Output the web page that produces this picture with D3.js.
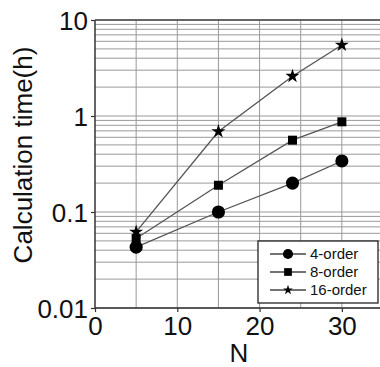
<!DOCTYPE html>
<html>
<head>
<meta charset="utf-8">
<script src="https://cdn.jsdelivr.net/npm/d3@7"></script>
<style>
	body { margin: 0; background: #fff; }
	text { font-family: "Liberation Sans", Arial, sans-serif; fill: #111; }
</style>
</head>
<body>
<div id="chart"></div>
<script>
// Values
var nValues = [5, 15, 24, 30];
var order4 = [0.043, 0.1, 0.2, 0.34];
var order8 = [0.053, 0.19, 0.56, 0.87];
var order16 = [0.062, 0.69, 2.6, 5.5];
var seriesNames = ['4-order', '8-order', '16-order'];
var xTicks = [0, 10, 20, 30];
var yTicks = [0.01, 0.1, 1, 10];

var w = 380, h = 367;
var margin = {top: 20, right: -3, bottom: 59, left: 95};

var svg = d3.select('#chart').append('svg')
	.attr('width', w)
	.attr('height', h);

var x = d3.scaleLinear().domain([0, 35]).range([margin.left, w - margin.right]);
var y = d3.scaleLog().domain([0.01, 10]).range([h - margin.bottom, margin.top]);

// Grid: vertical every 5, horizontal at every log step
var grid = svg.append('g').attr('class', 'grid');
grid.selectAll('line.v')
	.data(d3.range(5, 36, 5))
	.enter().append('line')
	.attr('x1', function(d) { return x(d); })
	.attr('x2', function(d) { return x(d); })
	.attr('y1', y(0.01))
	.attr('y2', y(10))
	.attr('stroke', '#999')
	.attr('stroke-width', 1);
grid.selectAll('line.h')
	.data(y.ticks())
	.enter().append('line')
	.attr('x1', x(0))
	.attr('x2', w)
	.attr('y1', function(d) { return y(d); })
	.attr('y2', function(d) { return y(d); })
	.attr('stroke', '#999')
	.attr('stroke-width', 1);

// Axes
var xAxis = d3.axisBottom(x).tickValues(xTicks).tickSize(4).tickPadding(4)
	.tickFormat(d3.format('d'));
var yAxis = d3.axisLeft(y).tickValues(yTicks).tickSize(4).tickPadding(3)
	.tickFormat(function(d) { return String(+d.toPrecision(1)); });

var gx = svg.append('g')
	.attr('transform', 'translate(0,' + y(0.01) + ')')
	.call(xAxis);
var gy = svg.append('g')
	.attr('transform', 'translate(' + x(0) + ',0)')
	.call(yAxis);
[gx, gy].forEach(function(g) {
	g.select('.domain').remove();
	g.selectAll('line').attr('stroke', '#333').attr('stroke-width', 1.2);
	g.selectAll('text').style('font-size', '26px').style('font-family', '"Liberation Sans", Arial, sans-serif').attr('fill', '#111');
});
gx.selectAll('text').attr('dy', '0.72em');
gy.selectAll('text').attr('dy', '0.36em');

// Frame lines (left, bottom, top)
svg.append('line').attr('x1', x(0)).attr('x2', x(0)).attr('y1', y(10)).attr('y2', y(0.01))
	.attr('stroke', '#333').attr('stroke-width', 1.5);
svg.append('line').attr('x1', x(0)).attr('x2', w).attr('y1', y(0.01)).attr('y2', y(0.01))
	.attr('stroke', '#333').attr('stroke-width', 1.5);
svg.append('line').attr('x1', x(0)).attr('x2', w).attr('y1', y(10)).attr('y2', y(10))
	.attr('stroke', '#444').attr('stroke-width', 1.5);

// Axis titles
svg.append('text')
	.attr('transform', 'translate(32,155) rotate(-90)')
	.attr('text-anchor', 'middle')
	.style('font-size', '26px')
	.text('Calculation time(h)');
svg.append('text')
	.attr('x', x(17.5))
	.attr('y', 362)
	.attr('text-anchor', 'middle')
	.style('font-size', '26px')
	.text('N');

// Series
var series = [
	{name: seriesNames[0], values: order4, symbol: d3.symbolCircle, size: 135, legendSize: 80},
	{name: seriesNames[1], values: order8, symbol: d3.symbolSquare, size: 81, legendSize: 60},
	{name: seriesNames[2], values: order16, symbol: d3.symbolStar, size: 62, legendSize: 30}
];

var line = d3.line()
	.x(function(d) { return x(d[0]); })
	.y(function(d) { return y(d[1]); });

series.forEach(function(s) {
	var pts = nValues.map(function(n, i) { return [n, s.values[i]]; });
	svg.append('path')
		.datum(pts)
		.attr('d', line)
		.attr('fill', 'none')
		.attr('stroke', '#555')
		.attr('stroke-width', 1.3);
});
series.forEach(function(s) {
	var pts = nValues.map(function(n, i) { return [n, s.values[i]]; });
	svg.selectAll(null)
		.data(pts)
		.enter().append('path')
		.attr('transform', function(d) { return 'translate(' + x(d[0]) + ',' + y(d[1]) + ')'; })
		.attr('d', d3.symbol().type(s.symbol).size(s.size))
		.attr('fill', '#000');
});

// Legend
var legend = svg.append('g').attr('transform', 'translate(258,241)');
legend.append('rect')
	.attr('width', 120)
	.attr('height', 62)
	.attr('fill', '#fff')
	.attr('stroke', '#222')
	.attr('stroke-width', 1.3);
series.forEach(function(s, i) {
	var row = legend.append('g').attr('transform', 'translate(0,' + (13 + i * 18) + ')');
	row.append('line')
		.attr('x1', 12).attr('x2', 48)
		.attr('stroke', '#444').attr('stroke-width', 1.3);
	row.append('path')
		.attr('transform', 'translate(30,0)')
		.attr('d', d3.symbol().type(s.symbol).size(s.legendSize))
		.attr('fill', '#000');
	row.append('text')
		.attr('x', 52)
		.attr('dy', '0.36em')
		.style('font-size', '15px')
		.text(s.name);
});
</script>
</body>
</html>
